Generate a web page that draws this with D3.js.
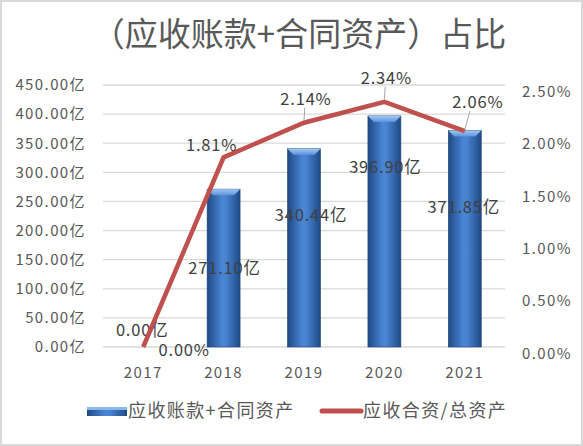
<!DOCTYPE html>
<html>
<head>
<meta charset="utf-8">
<script src="https://cdn.jsdelivr.net/npm/d3@7"></script>
<style>
  body { margin: 0; background: #fff; }
  text { font-family: "Noto Sans CJK SC", "Noto Sans", sans-serif; }
</style>
</head>
<body>
<div id="chart"></div>
<script>
// Data
var years = ["2017", "2018", "2019", "2020", "2021"];
var amounts = [0, 271.10, 340.44, 396.90, 371.85];   // 亿
var ratios = [0.0000, 0.0181, 0.0214, 0.0234, 0.0206];
var leftTicks = [0, 50, 100, 150, 200, 250, 300, 350, 400, 450];
var rightTicks = [0, 0.005, 0.01, 0.015, 0.02, 0.025];

var W = 583, H = 446;
var margin = { top: 85, right: 78, bottom: 99, left: 103 },
    width = W - margin.left - margin.right,
    height = H - margin.top - margin.bottom;

var svg = d3.select("#chart").append("svg")
    .attr("width", W)
    .attr("height", H);

// outer frame
svg.append("rect")
    .attr("x", 0.5).attr("y", 0.5)
    .attr("width", W - 1).attr("height", H - 1)
    .attr("fill", "#fff")
    .attr("stroke", "#d9d9d9")
    .attr("stroke-width", 3);

// gradients for bars
var defs = svg.append("defs");
var grad = defs.append("linearGradient").attr("id", "barGrad")
    .attr("x1", "0").attr("x2", "1").attr("y1", "0").attr("y2", "0");
grad.append("stop").attr("offset", "0%").attr("stop-color", "#1f4985");
grad.append("stop").attr("offset", "45%").attr("stop-color", "#4a85d3");
grad.append("stop").attr("offset", "55%").attr("stop-color", "#4a85d3");
grad.append("stop").attr("offset", "100%").attr("stop-color", "#1f4985");
var topGrad = defs.append("linearGradient").attr("id", "topGrad")
    .attr("x1", "0").attr("x2", "0").attr("y1", "0").attr("y2", "1");
topGrad.append("stop").attr("offset", "0%").attr("stop-color", "#a4c8f2");
topGrad.append("stop").attr("offset", "100%").attr("stop-color", "#5b93dc");

// Title
svg.append("text")
    .attr("x", 299)
    .attr("y", 46)
    .attr("text-anchor", "middle")
    .style("font-size", "33px")
    .style("fill", "#595959")
    .text("（应收账款+合同资产）占比");

var g = svg.append("g")
    .attr("transform", "translate(" + margin.left + "," + margin.top + ")");

// Scales
var x = d3.scaleBand().domain(years).range([0, width])
    .paddingInner(0.59).paddingOuter(0.295);
var xc = d3.scaleBand().domain(years).range([0, width]);
var y = d3.scaleLinear().domain([0, 450]).range([height, 0]);
var y2 = d3.scaleLinear().domain([0, 0.025]).range([height, 0]);

// Gridlines
g.selectAll(".grid")
    .data(leftTicks)
    .enter().append("line")
    .attr("x1", 0).attr("x2", width)
    .attr("y1", d => y(d)).attr("y2", d => y(d))
    .attr("stroke", "#d9d9d9")
    .attr("stroke-width", 1.3);

function styleTicks(sel) {
    sel.selectAll("text")
        .style("font-size", "15px")
        .style("letter-spacing", "1.4px")
        .style("fill", "#595959");
}

// Left axis
var leftAxis = g.append("g")
    .call(d3.axisLeft(y).tickValues(leftTicks).tickSize(0).tickPadding(17)
        .tickFormat(d => d3.format(".2f")(d) + "亿"));
leftAxis.select(".domain").remove();
styleTicks(leftAxis);

// Right axis
var rightAxis = g.append("g")
    .attr("transform", "translate(" + width + ",0)")
    .call(d3.axisRight(y2).tickValues(rightTicks).tickSize(0).tickPadding(17)
        .tickFormat(d3.format(".2%")));
rightAxis.select(".domain").remove();
styleTicks(rightAxis);
rightAxis.selectAll("text").attr("dy", "0.75em");

// Bottom axis
var bottomAxis = g.append("g")
    .attr("transform", "translate(0," + height + ")")
    .call(d3.axisBottom(xc).tickSize(0).tickPadding(20));
bottomAxis.select(".domain").remove();
styleTicks(bottomAxis);

// Bars
var bars = g.selectAll(".bar")
    .data(years.map((yr, i) => ({ year: yr, v: amounts[i], i: i })))
    .enter().append("g")
    .attr("class", "bar");

bars.append("rect")
    .attr("x", d => x(d.year))
    .attr("width", x.bandwidth())
    .attr("y", d => y(d.v))
    .attr("height", d => height - y(d.v))
    .attr("fill", "url(#barGrad)")
    .attr("stroke", "#1c447c")
    .attr("stroke-width", 0.6);

// bevel on top of bars
bars.filter(d => d.v > 0).append("path")
    .attr("d", function (d) {
        var x0 = x(d.year), x1 = x0 + x.bandwidth(), t = y(d.v), b = 6;
        return "M" + x0 + "," + t + "L" + x1 + "," + t + "L" + (x1 - b) + "," + (t + b) +
            "L" + (x0 + b) + "," + (t + b) + "Z";
    })
    .attr("fill", "url(#topGrad)");

// Line
var line = d3.line()
    .x((d, i) => xc(years[i]) + xc.bandwidth() / 2)
    .y(d => y2(d));

g.append("path")
    .datum(ratios)
    .attr("d", line)
    .attr("fill", "none")
    .attr("stroke", "#c0504d")
    .attr("stroke-width", 4.5);

// Bar labels (placed by hand in the original, positions in axis units)
var barLabelAt = [29, 135, 226, 309, 240];
var barLabelDx = [-1, 1, 7, 1, -1];
bars.append("text")
    .attr("x", d => x(d.year) + x.bandwidth() / 2 + barLabelDx[d.i])
    .attr("y", d => y(barLabelAt[d.i]))
    .attr("dy", "0.35em")
    .attr("text-anchor", "middle")
    .style("font-size", "16.5px")
    .style("letter-spacing", "0.8px")
    .style("fill", "#404040")
    .text(d => d3.format(".2f")(d.v) + "亿");

// Line labels (offsets)
var labelDx = [41, -12, 2, 2, 13];
var labelDy = [3, -12, -24, -24, -29];
var pts = ratios.map((r, i) => ({
    cx: xc(years[i]) + xc.bandwidth() / 2,
    cy: y2(r), r: r, dx: labelDx[i], dy: labelDy[i]
}));

// leader lines
g.selectAll(".leader")
    .data(pts.filter((d, i) => i >= 2))
    .enter().append("line")
    .attr("x1", d => d.cx + d.dx * 0.4)
    .attr("y1", d => d.cy + d.dy + 9)
    .attr("x2", d => d.cx)
    .attr("y2", d => d.cy - 2)
    .attr("stroke", "#a6a6a6")
    .attr("stroke-width", 1);

g.selectAll(".plabel")
    .data(pts)
    .enter().append("text")
    .attr("x", d => d.cx + d.dx)
    .attr("y", d => d.cy + d.dy)
    .attr("dy", "0.35em")
    .attr("text-anchor", "middle")
    .style("font-size", "16.5px")
    .style("letter-spacing", "0.8px")
    .style("fill", "#404040")
    .text(d => d3.format(".2%")(d.r));

// Legend
var legend = svg.append("g").attr("transform", "translate(87,411)");
legend.append("rect")
    .attr("x", 0).attr("y", -4)
    .attr("width", 40).attr("height", 9)
    .attr("fill", "url(#barGrad)");
legend.append("rect")
    .attr("x", 0).attr("y", -4)
    .attr("width", 40).attr("height", 3)
    .attr("fill", "#8ab7ee");
legend.append("text")
    .attr("x", 41).attr("y", 0)
    .attr("dy", "0.35em")
    .style("font-size", "18px")
    .style("letter-spacing", "1.4px")
    .style("fill", "#595959")
    .text("应收账款+合同资产");
legend.append("line")
    .attr("x1", 235).attr("x2", 274)
    .attr("y1", 0).attr("y2", 0)
    .attr("stroke", "#c0504d")
    .attr("stroke-width", 5)
    .attr("stroke-linecap", "round");
legend.append("text")
    .attr("x", 276).attr("y", 0)
    .attr("dy", "0.35em")
    .style("font-size", "18px")
    .style("letter-spacing", "1.4px")
    .style("fill", "#595959")
    .text("应收合资/总资产");
</script>
</body>
</html>
